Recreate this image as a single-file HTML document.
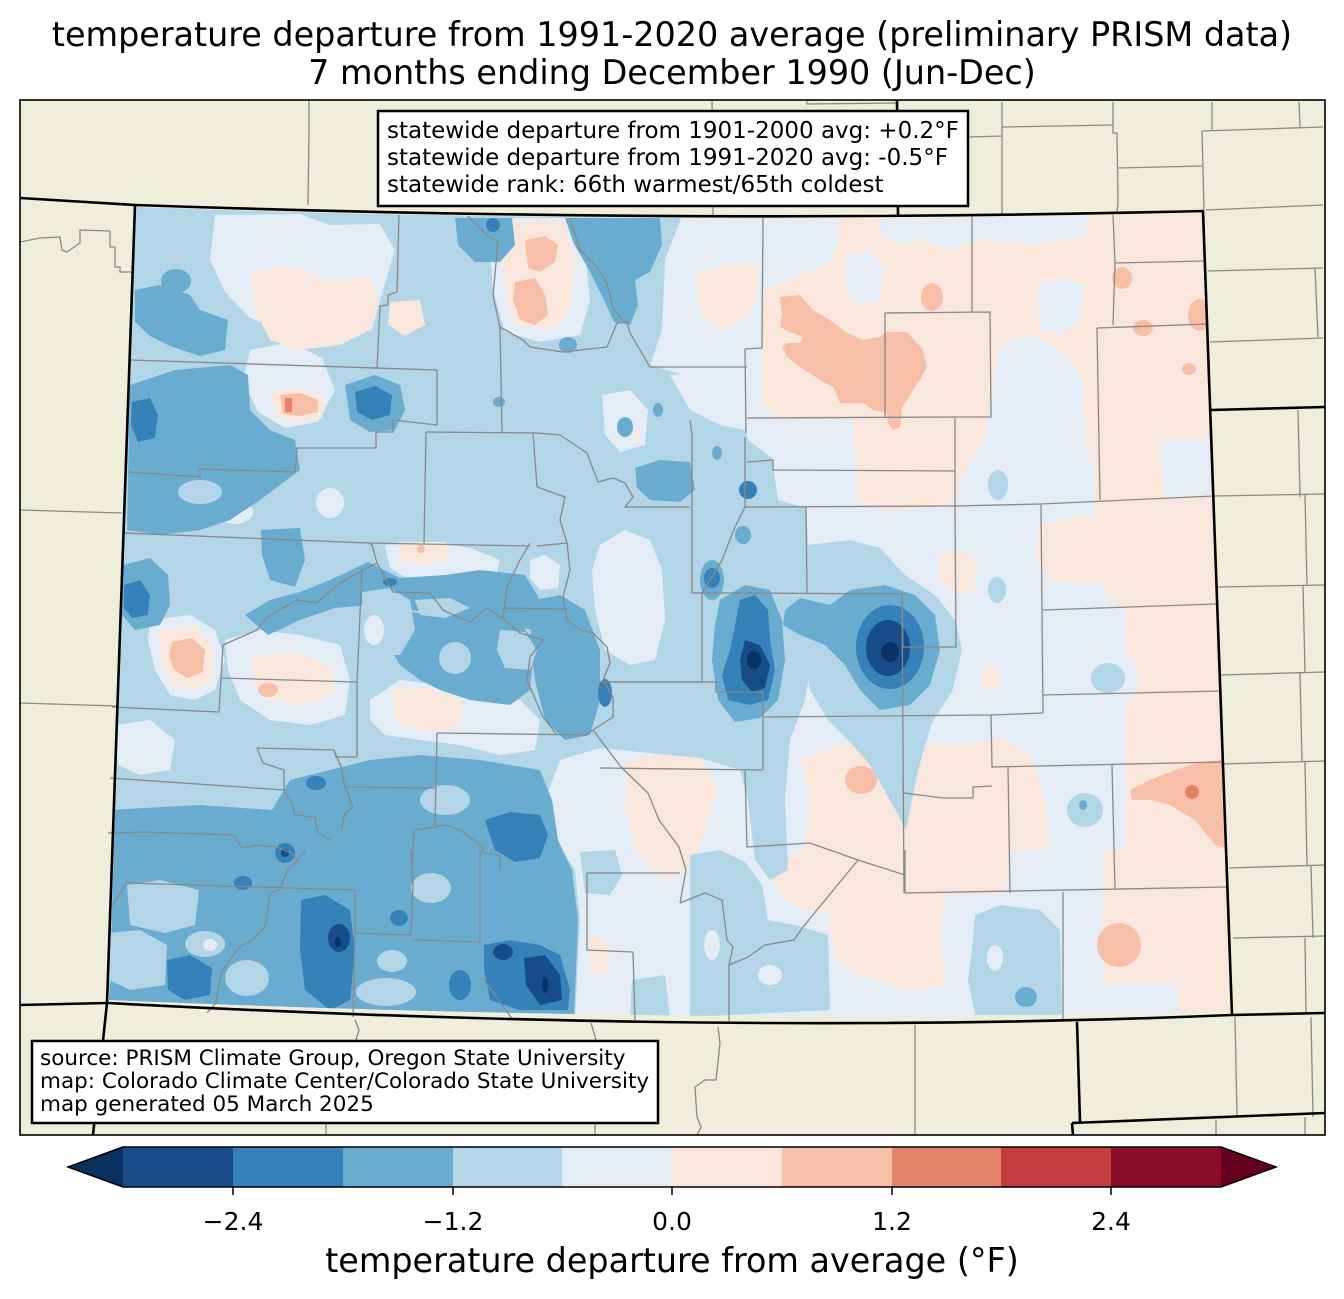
<!DOCTYPE html>
<html><head><meta charset="utf-8"><style>
html,body{margin:0;padding:0;background:#fff;}
svg{display:block;}
text{font-family:"DejaVu Sans","Liberation Sans",sans-serif;fill:#000;}
</style></head><body>
<svg width="1344" height="1299" viewBox="0 0 1344 1299" xmlns="http://www.w3.org/2000/svg">
<defs>
<clipPath id="co"><path d="M135,207 Q670,226 1203,213 L1230,1011 Q730,1026 109,1000 Z"/></clipPath>
<clipPath id="fr"><rect x="20" y="100" width="1305" height="1035"/></clipPath>
</defs>
<rect x="20" y="100" width="1305" height="1035" fill="#efeedb"/>

<g clip-path="url(#co)" stroke="none">
<rect x="90" y="190" width="1160" height="850" fill="#e4edf5"/>
<!-- east pink -->
<g fill="#f9e7de">
<path d="M762,205 L1215,205 L1226,870 L1126,870 L1126,610 L1108,600 L1096,560 L1094,507 L955,507 L880,510 L858,500 L853,420 L780,420 L762,405 Z"/>
<path d="M800,760 L840,745 L900,740 L960,745 L1000,738 L1030,755 L1045,800 L1050,850 L1010,855 L1005,893 L945,895 L940,930 L945,987 L900,990 L860,975 L835,960 L828,913 L800,905 L775,890 L780,860 L805,850 L810,800 Z"/>
<path d="M1100,850 L1230,850 L1232,1015 L1180,1012 L1176,983 L1104,985 Z"/>
<path d="M1040,525 L1080,515 L1120,520 L1135,545 L1130,580 L1090,585 L1050,580 L1035,555 Z"/>
<path d="M940,555 L960,548 L975,560 L975,590 L955,595 L940,580 Z"/>
<ellipse cx="990" cy="678" rx="10" ry="12"/>
<path d="M628,760 L660,752 L700,758 L718,790 L705,830 L690,870 L665,880 L638,855 L625,810 Z"/>
<path d="M588,940 L600,935 L610,950 L607,972 L592,975 Z"/>
<path d="M778,862 L810,858 L828,870 L826,905 L800,910 L782,895 Z"/>
</g>
<!-- C5 patches east -->
<g fill="#e4edf5">
<path d="M763,215 L835,215 L840,240 L830,262 L800,275 L775,285 L763,290 Z"/>
<path d="M845,255 L870,250 L885,270 L880,300 L860,305 L845,290 Z"/>
<path d="M880,215 L1090,215 L1085,235 L1040,245 L980,240 L950,250 L925,240 L900,245 L880,235 Z"/>
<path d="M1037,285 L1060,278 L1085,285 L1080,320 L1060,335 L1040,330 Z"/>
<path d="M1000,345 L1030,335 L1060,350 L1083,380 L1085,440 L1094,470 L1094,510 L955,510 L960,480 L985,440 L990,400 L995,370 Z"/>
<path d="M1159,440 L1212,440 L1212,497 L1165,497 Z"/>
<path d="M1010,852 L1060,848 L1104,852 L1104,895 L1060,900 L1010,895 Z"/>
<path d="M1060,895 L1104,895 L1100,940 L1104,985 L1176,983 L1180,1015 L1060,1017 Z"/>
<ellipse cx="1085" cy="812" rx="32" ry="42"/>
<ellipse cx="1108" cy="678" rx="30" ry="32"/>
</g>
<!-- west C4 -->
<g fill="#b2d5e7">
<path d="M100,195 L690,195 L665,260 L662,330 L650,365 L700,380 L740,400 L748,440 L772,458 L778,500 L806,508 L808,545 L800,598 L815,640 L805,700 L790,740 L785,800 L788,870 L770,880 L755,860 L748,800 L740,770 L700,758 L640,752 L600,748 L560,760 L545,800 L555,840 L575,870 L580,920 L575,1020 L100,1020 Z"/>
<path d="M808,545 L850,540 L880,548 L905,575 L935,595 L955,620 L962,650 L952,692 L932,722 L918,770 L906,830 L890,800 L870,765 L850,742 L828,720 L810,690 L800,640 L795,600 Z"/>
<path d="M690,855 L720,850 L745,862 L762,885 L768,920 L795,925 L828,935 L830,1010 L690,1017 Z"/>
<path d="M580,852 L615,850 L622,875 L610,895 L585,893 Z"/>
<path d="M632,980 L665,975 L670,1017 L630,1017 Z"/>
<path d="M975,915 L1000,905 L1040,910 L1060,930 L1062,1015 L975,1015 L968,980 L972,950 Z"/>
<ellipse cx="1085" cy="810" rx="18" ry="17"/>
<ellipse cx="1108" cy="678" rx="17" ry="15"/>
<ellipse cx="997" cy="590" rx="9" ry="13"/>
<ellipse cx="998" cy="485" rx="10" ry="15"/>
</g>
<!-- C5 patches west -->
<g fill="#e4edf5">
<path d="M215,215 L300,214 L330,225 L380,224 L395,250 L383,290 L372,330 L330,338 L290,332 L250,318 L225,292 L210,260 Z"/>
<path d="M250,350 L290,342 L322,358 L335,390 L318,422 L285,428 L258,412 L243,380 Z"/>
<path d="M495,218 L570,218 L585,250 L590,300 L580,335 L540,342 L505,332 L493,290 L490,250 Z"/>
<path d="M602,395 L630,390 L648,410 L645,445 L620,452 L605,435 Z"/>
<path d="M670,375 L720,372 L745,385 L745,430 L720,425 L690,410 Z"/>
<path d="M600,545 L625,530 L650,540 L662,570 L665,620 L655,660 L630,665 L605,650 L595,610 L592,570 Z"/>
<ellipse cx="330" cy="503" rx="14" ry="15"/>
<ellipse cx="235" cy="512" rx="18" ry="12"/>
<path d="M385,545 L430,542 L470,548 L500,560 L495,580 L470,590 L440,585 L410,580 L390,568 Z"/>
<path d="M530,560 L545,555 L560,565 L558,588 L540,590 L530,578 Z"/>
<path d="M150,620 L190,615 L215,630 L225,660 L215,690 L195,700 L170,695 L155,670 L148,640 Z"/>
<path d="M225,640 L260,630 L300,635 L340,645 L350,680 L345,715 L310,725 L270,720 L240,700 L228,670 Z"/>
<path d="M370,700 L400,680 L440,685 L480,695 L520,700 L540,720 L535,750 L500,755 L460,745 L420,740 L385,735 L370,720 Z"/>
<path d="M115,725 L150,720 L175,740 L170,770 L140,775 L118,765 Z"/>
<ellipse cx="712" cy="945" rx="8" ry="15"/>
<ellipse cx="770" cy="975" rx="12" ry="10"/>
<ellipse cx="995" cy="958" rx="8" ry="13"/>
</g>
<!-- C6 west -->
<g fill="#f9e7de">
<path d="M250,272 L290,266 L330,280 L370,276 L378,300 L370,330 L340,345 L300,350 L270,340 L255,310 Z"/>
<path d="M390,302 L420,300 L425,325 L405,336 L388,325 Z"/>
<path d="M270,392 L300,388 L325,398 L322,418 L295,422 L275,415 Z"/>
<path d="M505,222 L565,222 L575,260 L570,310 L550,330 L515,325 L505,290 L500,250 Z"/>
<path d="M695,275 L725,265 L757,262 L757,300 L745,320 L720,330 L700,315 Z"/>
<path d="M398,542 L445,542 L450,560 L420,565 L400,560 Z"/>
<path d="M160,630 L195,625 L212,645 L212,680 L195,690 L172,685 L160,660 Z"/>
<path d="M250,660 L290,650 L330,665 L335,695 L300,705 L270,700 L255,685 Z"/>
<path d="M392,690 L430,688 L462,700 L460,728 L425,732 L395,722 Z"/>
<ellipse cx="637" cy="435" rx="3" ry="6"/>
</g>
<ellipse cx="421" cy="549" rx="4" ry="4" fill="#f7bfa7"/>
<!-- C3 -->
<g fill="#6aacd0">
<path d="M135,290 L160,285 L190,295 L200,310 L228,320 L225,350 L200,356 L170,346 L150,336 L135,322 Z"/>
<ellipse cx="176" cy="281" rx="15" ry="12"/>
<path d="M130,385 L175,370 L230,365 L248,375 L250,410 L270,430 L295,440 L300,470 L260,500 L230,520 L200,530 L160,535 L127,530 Z"/>
<path d="M345,385 L375,375 L400,385 L405,410 L395,430 L370,432 L350,420 Z"/>
<path d="M455,218 L512,218 L515,245 L500,262 L475,262 L458,245 Z"/>
<path d="M565,218 L660,218 L662,245 L650,272 L635,280 L638,305 L630,325 L614,322 L603,298 L588,268 L574,244 Z"/>
<ellipse cx="625" cy="427" rx="8" ry="10"/>
<ellipse cx="658" cy="410" rx="5" ry="7"/>
<ellipse cx="568" cy="345" rx="9" ry="8"/>
<ellipse cx="499" cy="402" rx="6" ry="5"/>
<ellipse cx="717" cy="453" rx="5" ry="7"/>
<path d="M635,468 L660,460 L690,462 L695,490 L680,502 L650,500 L637,488 Z"/>
<path d="M261,530 L300,528 L305,560 L295,587 L270,580 L262,555 Z"/>
<path d="M123,565 L150,558 L168,575 L170,605 L160,625 L135,630 L122,615 Z"/>
<path d="M245,615 L270,600 L300,592 L330,580 L368,562 L400,578 L445,575 L480,570 L525,575 L540,600 L535,630 L500,625 L450,615 L410,610 L370,605 L335,608 L300,620 L268,635 Z"/>
<path d="M380,610 L450,615 L520,625 L535,640 L530,690 L510,705 L470,700 L440,690 L420,680 L400,665 L385,640 Z"/>
<path d="M535,600 L560,595 L585,610 L600,650 L600,700 L590,735 L565,740 L545,720 L535,680 L530,640 Z"/>
<ellipse cx="712" cy="580" rx="12" ry="20"/>
<ellipse cx="743" cy="535" rx="8" ry="9"/>
<path d="M110,810 L200,805 L272,810 L290,780 L330,770 L370,760 L420,755 L480,760 L540,770 L552,800 L558,840 L572,870 L578,920 L574,1020 L100,1020 Z"/>
<path d="M720,600 L745,585 L770,590 L782,620 L785,660 L778,700 L760,718 L735,722 L718,700 L712,660 L715,625 Z"/>
<path d="M785,610 L800,598 L830,605 L850,590 L885,585 L915,595 L935,615 L940,650 L930,685 L910,705 L880,710 L860,690 L845,665 L825,645 L800,635 L783,625 Z"/>
<ellipse cx="1026" cy="997" rx="11" ry="10"/>
<ellipse cx="1083" cy="805" rx="4" ry="5"/>
</g>
<!-- C4 patches in C3 -->
<g fill="#b2d5e7">
<path d="M127,885 L160,880 L199,890 L195,925 L165,933 L130,925 Z"/>
<path d="M109,933 L140,930 L167,945 L165,985 L130,990 L109,980 Z"/>
<ellipse cx="205" cy="944" rx="20" ry="13"/>
<ellipse cx="247" cy="978" rx="22" ry="18"/>
<ellipse cx="386" cy="992" rx="30" ry="14"/>
<ellipse cx="392" cy="961" rx="15" ry="11"/>
<ellipse cx="431" cy="888" rx="20" ry="15"/>
<ellipse cx="445" cy="800" rx="25" ry="15"/>
<ellipse cx="455" cy="658" rx="16" ry="16"/>
<ellipse cx="200" cy="492" rx="22" ry="12"/>
<path d="M362,592 L390,588 L410,600 L415,630 L400,655 L378,655 L363,630 Z"/>
<path d="M500,630 L525,632 L537,650 L530,670 L505,668 L497,650 Z"/>
<path d="M415,600 L450,598 L470,608 L445,618 L420,615 Z"/>
</g>
<ellipse cx="374" cy="630" rx="10" ry="15" fill="#e4edf5"/>
<ellipse cx="210" cy="945" rx="7" ry="6" fill="#e4edf5"/>
<!-- C2 -->
<g fill="#3581ba">
<path d="M132,402 L150,398 L158,415 L155,438 L138,442 L131,425 Z"/>
<path d="M355,392 L375,386 L392,395 L390,415 L372,420 L357,412 Z"/>
<ellipse cx="493" cy="225" rx="7" ry="7"/>
<path d="M124,585 L140,580 L150,595 L148,615 L132,618 L124,608 Z"/>
<ellipse cx="605" cy="693" rx="7" ry="14"/>
<ellipse cx="712" cy="578" rx="8" ry="10"/>
<ellipse cx="748" cy="490" rx="9" ry="9"/>
<ellipse cx="390" cy="582" rx="7" ry="4"/>
<path d="M167,960 L190,955 L212,968 L210,995 L185,1000 L168,990 Z"/>
<path d="M301,900 L325,895 L350,910 L355,950 L350,1000 L330,1010 L305,990 L300,950 Z"/>
<path d="M484,945 L510,940 L540,945 L560,955 L570,990 L568,1010 L520,1010 L490,1000 L484,970 Z"/>
<path d="M485,820 L510,812 L540,815 L548,835 L540,858 L515,862 L495,850 Z"/>
<ellipse cx="243" cy="883" rx="9" ry="7"/>
<ellipse cx="399" cy="918" rx="9" ry="8"/>
<ellipse cx="460" cy="985" rx="11" ry="15"/>
<ellipse cx="316" cy="783" rx="10" ry="7"/>
<ellipse cx="285" cy="853" rx="10" ry="10"/>
<path d="M740,600 L755,595 L768,610 L770,640 L775,670 L768,700 L750,705 L728,700 L722,675 L730,650 L735,625 Z"/>
<ellipse cx="890" cy="647" rx="34" ry="42"/>
</g>
<!-- C1 -->
<g fill="#164c87">
<ellipse cx="339" cy="938" rx="11" ry="14"/>
<path d="M524,958 L545,955 L560,975 L562,1000 L540,1005 L526,985 Z"/>
<ellipse cx="503" cy="952" rx="10" ry="8"/>
<path d="M745,640 L760,645 L770,665 L765,688 L752,692 L742,680 L740,660 Z"/>
<ellipse cx="888" cy="648" rx="22" ry="28"/>
<ellipse cx="285" cy="853" rx="4" ry="4"/>
</g>
<!-- C0 -->
<g fill="#0a3263">
<ellipse cx="338" cy="942" rx="3" ry="5"/>
<ellipse cx="754" cy="660" rx="7" ry="9"/>
<ellipse cx="890" cy="652" rx="9" ry="10"/>
<ellipse cx="545" cy="985" rx="3" ry="8"/>
</g>
<!-- C7 -->
<g fill="#f7bfa7">
<path d="M780,297 L800,295 L813,310 L830,320 L847,333 L863,340 L880,337 L885,332 L907,332 L923,350 L927,367 L920,380 L913,390 L907,400 L902,407 L900,427 L893,430 L888,422 L887,413 L873,410 L863,403 L840,403 L833,387 L820,380 L800,367 L787,357 L782,347 L787,343 L800,343 L803,337 L790,332 L780,327 L782,313 Z"/>
<ellipse cx="932" cy="297" rx="11" ry="14"/>
<ellipse cx="1122" cy="278" rx="10" ry="11"/>
<ellipse cx="1200" cy="315" rx="12" ry="16"/>
<ellipse cx="1143" cy="328" rx="10" ry="8"/>
<ellipse cx="1189" cy="369" rx="7" ry="6"/>
<ellipse cx="861" cy="780" rx="16" ry="14"/>
<ellipse cx="1119" cy="945" rx="22" ry="22"/>
<path d="M1130,790 L1150,780 L1175,770 L1200,762 L1222,760 L1226,848 L1215,845 L1195,820 L1170,805 L1150,800 L1132,800 Z"/>
<path d="M172,642 L192,638 L205,650 L203,672 L188,678 L174,670 L169,655 Z"/>
<path d="M280,395 L300,393 L318,400 L318,412 L300,416 L283,414 Z"/>
<ellipse cx="268" cy="690" rx="10" ry="7"/>
<path d="M525,240 L545,236 L558,245 L555,262 L540,272 L528,268 Z"/>
<path d="M515,282 L535,278 L545,295 L548,315 L535,325 L520,320 L513,300 Z"/>
</g>
<g fill="#e4826a">
<ellipse cx="1192" cy="792" rx="7" ry="7"/>
<rect x="285" y="398" width="7" height="14"/>
</g>
</g>

<!-- county lines -->
<g clip-path="url(#fr)" fill="none" stroke="#888" stroke-width="1.3" stroke-linejoin="round">
<path d="M130,360 L437,370"/>
<path d="M128,472 L200,477 L200,469 L295,472 L297,448 L376,448 L376,432 L393,432 L393,420 L437,425 L437,370"/>
<path d="M399,215 L397,292 L388,295 L388,305 L380,306 L377,368"/>
<path d="M468,216 L487,235 L498,242 L493,295 L500,328 L502,432"/>
<path d="M500,327 L523,340 L530,347 L563,352 L607,347 L617,323 L627,322 L630,333 L650,367 L747,367"/>
<path d="M570,218 L580,250 L597,267 L607,283 L613,307 L622,320"/>
<path d="M763,217 L762,348 L745,349 L746,433"/>
<path d="M747,418 L955,417 L991,417 L990,312 L885,313 L885,418"/>
<path d="M972,216 L972,312"/>
<path d="M1113,215 L1115,263 L1205,261"/>
<path d="M1115,263 L1113,325"/>
<path d="M1097,328 L1207,324"/>
<path d="M1097,328 L1100,500"/>
<path d="M745,507 L955,506 L1041,504 L1214,496"/>
<path d="M955,418 L955,506"/>
<path d="M747,462 L773,460 L773,470 L955,471"/>
<path d="M806,507 L807,593"/>
<path d="M955,506 L956,647 L903,647 L902,594 L747,593"/>
<path d="M1041,505 L1043,713"/>
<path d="M1043,610 L1216,604"/>
<path d="M1043,695 L1220,691"/>
<path d="M902,594 L904,893"/>
<path d="M763,717 L991,715 L1043,713"/>
<path d="M991,715 L992,767 L1222,762"/>
<path d="M1008,767 L1010,893"/>
<path d="M1112,765 L1115,890"/>
<path d="M904,793 L943,798 L973,798 L973,787 L992,786"/>
<path d="M692,435 L692,593 L747,593"/>
<path d="M745,437 L745,507 L735,527 L722,560 L702,593"/>
<path d="M702,593 L702,682 L716,682 L716,692 L763,692 L763,770"/>
<path d="M600,682 L702,682"/>
<path d="M600,768 L763,770"/>
<path d="M745,770 L747,847 L810,843 L858,860 L905,875"/>
<path d="M905,850 L905,893 L1227,887"/>
<path d="M1063,892 L1063,1020"/>
<path d="M858,860 L803,927 L794,940 L765,945 L748,957 L729,965 L729,1023"/>
<path d="M680,903 L705,893 L722,900 L727,940 L733,947 L729,965"/>
<path d="M587,873 L680,873 M587,873 L587,950 L633,952 L635,1020"/>
<path d="M123,533 L368,543 L530,546"/>
<path d="M377,563 L363,570 L340,583 L317,603 L297,600 L267,617 L257,630 L223,645 L221,678 L219,712 L112,707"/>
<path d="M221,678 L357,682 L357,757 L336,757 L334,750 L257,748 L263,763 L284,770 L284,790 L110,778"/>
<path d="M362,570 L357,682"/>
<path d="M377,563 L372,545 L368,543"/>
<path d="M426,432 L424,543"/>
<path d="M426,432 L537,433 L560,435 L587,453 L598,482 L613,478 L625,483 L633,497 L625,507 L690,507"/>
<path d="M690,420 L692,435"/>
<path d="M533,433 L537,487 L565,497 L560,520 L567,543 L537,546"/>
<path d="M567,543 L570,570 L563,597 L567,620 L580,630 L593,633 L607,647 L610,663 L603,680 L613,697 L613,717 L593,730 L585,735"/>
<path d="M603,682 L700,682"/>
<path d="M593,730 L621,767 L648,793 L659,820 L679,847 L686,870 L680,903"/>
<path d="M437,733 L587,735"/>
<path d="M437,733 L435,827"/>
<path d="M345,787 L435,788"/>
<path d="M503,608 L567,609 M530,543 L520,560 L507,587 L503,618"/>
<path d="M377,563 L393,592 L430,593 L443,610 L460,618 L470,622 L487,608 L503,618 L520,633 L543,640 L530,657 L527,680 L543,717 L557,735"/>
<path d="M284,790 L292,803 L295,815 L315,817 L318,833 L330,840"/>
<path d="M334,750 L341,767 L345,787 L353,807 L345,813 L341,830"/>
<path d="M435,827 L414,830 L412,870 L413,883"/>
<path d="M435,827 L445,825 L460,830 L483,847 L483,853 L500,855 L500,870"/>
<path d="M108,833 L144,832 L234,835 L242,848 L257,845 L276,847 L292,853 L299,863"/>
<path d="M127,883 L355,890 L355,933 L411,935 L413,883 L411,850"/>
<path d="M413,940 L480,942 M480,850 L480,942 M482,977 L513,1020"/>
<path d="M355,933 L353,1017"/>
<path d="M279,890 L270,893 L265,927 L252,940 L239,947 L230,960 L221,973 L216,1003 L207,1013"/>
<path d="M127,883 L109,910"/>
<path d="M279,890 L288,870 L297,860 L306,850"/>
<!-- neighbors -->
<path d="M309,100 L309,130 L308,205"/>
<path d="M712,100 L713,216"/>
<path d="M807,100 L807,104 L897,103"/>
<path d="M968,137 L1002,136 M1002,102 L1002,215 M1002,127 L1113,125 M1113,102 L1113,133 L1117,133 L1118,203 L1117,212 M1118,168 L1202,166 M1212,102 L1212,130 M1202,131 L1323,127 M1202,131 L1204,210 M1299,102 L1300,127 M1206,210 L1323,205 M1208,271 L1323,268 M1315,268 L1318,337 M1210,342 L1323,338"/>
<path d="M1298,410 L1300,497 M1214,496 L1325,494 M1305,494 L1307,586 M1217,587 L1325,585 M1303,585 L1305,673 M1220,675 L1325,672 M1300,673 L1302,762 M1222,764 L1325,761 M1305,762 L1307,866 M1229,868 L1324,865 M1311,866 L1313,938 M1233,938 L1324,936 M1305,938 L1306,1014"/>
<path d="M20,242 L40,238 L60,237 L62,250 L67,252 L80,243 L80,230 L110,231 L110,247 L115,247 L115,267 L120,267 L120,272 L132,272"/>
<path d="M20,510 L122,513 M20,703 L116,706"/>
<path d="M355,1020 L359,1030 L355,1043 M326,1123 L326,1135"/>
<path d="M591,1023 L596,1040 L595,1135"/>
<path d="M718,1027 L720,1043 L716,1080 L705,1080 L695,1087 L697,1117 L701,1127 L697,1135"/>
<path d="M915,1025 L915,1135"/>
<path d="M1235,1017 L1237,1117 M1311,1017 L1313,1117 M1216,1120 L1216,1135 M1305,1117 L1305,1135"/>
</g>

<!-- state lines -->
<g fill="none" stroke="#000" stroke-width="2.6" stroke-linejoin="round">
<path d="M135,205 Q670,224 1203,211 L1232,1015 Q730,1036 107,1003 Z"/>
<path d="M20,198 L135,205"/>
<path d="M897,100 L898,215"/>
<path d="M1211,410 L1325,407"/>
<path d="M20,1005 L107,1003"/>
<path d="M107,1003 L93,1135"/>
<path d="M1232,1015 L1325,1013"/>
<path d="M1077,1022 L1080,1122"/>
<path d="M1072,1123 L1325,1113"/>
<path d="M1072,1123 L1073,1135"/>
</g>
<rect x="20" y="100" width="1305" height="1035" fill="none" stroke="#000" stroke-width="1.6"/>

<!-- stats box -->
<rect x="378" y="111" width="590" height="95" fill="#fff" stroke="#000" stroke-width="2.5"/>
<text x="387" y="138" font-size="23">statewide departure from 1901-2000 avg: +0.2°F</text>
<text x="387" y="165" font-size="23">statewide departure from 1991-2020 avg: -0.5°F</text>
<text x="387" y="192" font-size="23">statewide rank: 66th warmest/65th coldest</text>

<!-- source box -->
<rect x="32" y="1041" width="626" height="82" fill="#fff" stroke="#000" stroke-width="2.5"/>
<text x="40" y="1065" font-size="21.5">source: PRISM Climate Group, Oregon State University</text>
<text x="40" y="1088" font-size="21.5">map: Colorado Climate Center/Colorado State University</text>
<text x="40" y="1111" font-size="21.5">map generated 05 March 2025</text>

<!-- title -->
<text x="672" y="46" font-size="33.4" text-anchor="middle">temperature departure from 1991-2020 average (preliminary PRISM data)</text>
<text x="672" y="84" font-size="33.4" text-anchor="middle">7 months ending December 1990 (Jun-Dec)</text>

<!-- colorbar -->
<polygon points="123,1147 68,1167 123,1187" fill="#0a2f5e"/>
<rect x="123" y="1147" width="110" height="40" fill="#164c87"/>
<rect x="233" y="1147" width="110" height="40" fill="#3581ba"/>
<rect x="343" y="1147" width="110" height="40" fill="#6aacd0"/>
<rect x="453" y="1147" width="110" height="40" fill="#b2d5e7"/>
<rect x="562" y="1147" width="110" height="40" fill="#e4edf5"/>
<rect x="672" y="1147" width="110" height="40" fill="#f9e7de"/>
<rect x="782" y="1147" width="110" height="40" fill="#f7bfa7"/>
<rect x="892" y="1147" width="110" height="40" fill="#e4826a"/>
<rect x="1001" y="1147" width="110" height="40" fill="#c33d3f"/>
<rect x="1111" y="1147" width="110" height="40" fill="#8a0c27"/>
<polygon points="1221,1147 1276,1167 1221,1187" fill="#67001f"/>
<path d="M123,1147 L68,1167 L123,1187 L1221,1187 L1276,1167 L1221,1147 Z" fill="none" stroke="#000" stroke-width="1.5"/>
<g stroke="#000" stroke-width="1.5">
<line x1="233" y1="1187" x2="233" y2="1195"/>
<line x1="453" y1="1187" x2="453" y2="1195"/>
<line x1="672" y1="1187" x2="672" y2="1195"/>
<line x1="892" y1="1187" x2="892" y2="1195"/>
<line x1="1111" y1="1187" x2="1111" y2="1195"/>
</g>
<g font-size="25" text-anchor="middle">
<text x="233" y="1230">−2.4</text>
<text x="453" y="1230">−1.2</text>
<text x="672" y="1230">0.0</text>
<text x="892" y="1230">1.2</text>
<text x="1111" y="1230">2.4</text>
</g>
<text x="672" y="1272" font-size="33.4" text-anchor="middle">temperature departure from average (°F)</text>
</svg>
</body></html>
